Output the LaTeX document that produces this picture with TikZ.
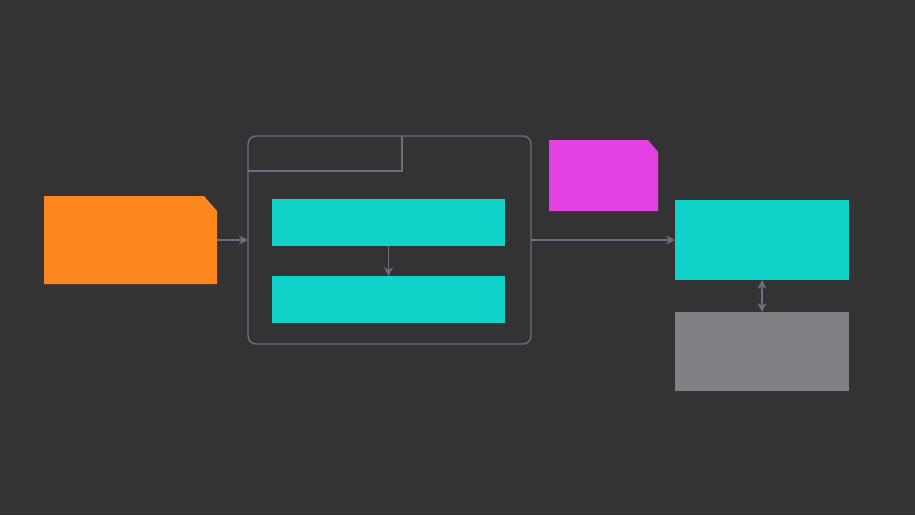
\documentclass[tikz,border=0pt]{standalone}
\usetikzlibrary{arrows.meta}

\definecolor{bgdark}{HTML}{333333}
\definecolor{noteorange}{HTML}{FB871E}
\definecolor{notepink}{HTML}{E441E2}
\definecolor{boxcyan}{HTML}{12D3C9}
\definecolor{boxgrey}{HTML}{827F85}
\definecolor{wire}{HTML}{706B80}

\tikzset{
    block/.style={rectangle, inner sep=0, outer sep=0, draw=none},
    link/.style={draw=wire, line width=1.4pt, -{Stealth[length=9pt,width=9pt]}}
}

\begin{document}
\begin{tikzpicture}[x=1pt, y=-1pt]
% Background
\fill[bgdark] (0,0) rectangle (915,515);

% Nodes
\node[block, minimum width=173pt, minimum height=88pt] (SRC) at (130.5, 240) {};
\node[block, draw=wire, line width=1.4pt, rounded corners=8pt, minimum width=283pt, minimum height=208pt] (FRAME) at (389.5, 240) {};
\node[block, fill=boxcyan, minimum width=233pt, minimum height=47pt] (STEP1) at (388.5, 222.5) {};
\node[block, fill=boxcyan, minimum width=233pt, minimum height=47pt] (STEP2) at (388.5, 299.5) {};
\node[block, minimum width=109pt, minimum height=71pt] (MEMO) at (603.5, 175.5) {};
\node[block, fill=boxcyan, minimum width=174pt, minimum height=80pt] (SINK) at (762, 240) {};
\node[block, fill=boxgrey, minimum width=174pt, minimum height=79pt] (STORE) at (762, 351.5) {};

% Notes with a clipped corner
\fill[noteorange] (SRC.south west) |- ([xshift=-13pt]SRC.north east)
    -- ([yshift=-15pt]SRC.north east) |- cycle;
\fill[notepink] (MEMO.south west) |- ([xshift=-10pt]MEMO.north east)
    -- ([yshift=-12pt]MEMO.north east) |- cycle;

% Tab on the frame
\draw[wire, line width=1.4pt] ([yshift=-35pt]FRAME.north west) -| ([xshift=154pt]FRAME.north west);

% Connections
\draw[link] (SRC.east) -- (FRAME.west);
\draw[link] (STEP1.south) -- (STEP2.north);
\draw[link] (FRAME.east) -- (SINK.west);
\draw[link, {Stealth[length=9pt,width=9pt]}-{Stealth[length=9pt,width=9pt]}] (SINK.south) -- (STORE.north);
\end{tikzpicture}
\end{document}
